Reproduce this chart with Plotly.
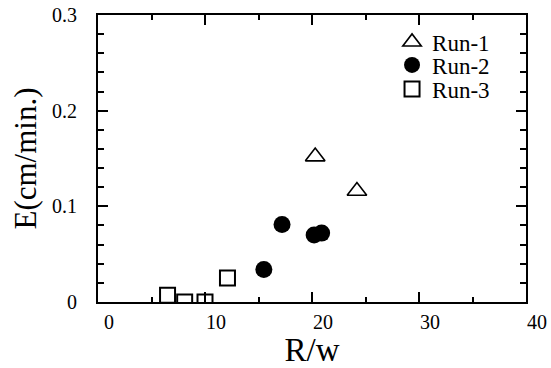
import plotly.graph_objects as go

run1_x = [20.3, 24.2]
run1_y = [0.152, 0.116]
run2_x = [15.5, 17.2, 20.2, 20.9]
run2_y = [0.034, 0.081, 0.070, 0.072]
run3_x = [6.5, 8.1, 10.0, 12.1]
run3_y = [0.007, 0.0, 0.0, 0.025]

FONT = "Liberation Serif, Times New Roman, serif"

fig = go.Figure()
fig.add_trace(go.Scatter(x=run1_x, y=run1_y, mode="markers", name="Run-1", legend="legend",
                         marker=dict(symbol="triangle-up-open", size=17, color="black",
                                     line=dict(width=1.6, color="black"))))
fig.add_trace(go.Scatter(x=run2_x, y=run2_y, mode="markers", name="Run-2", legend="legend2",
                         marker=dict(symbol="circle", size=17, color="black")))
fig.add_trace(go.Scatter(x=run3_x, y=run3_y, mode="markers", name="Run-3", legend="legend3",
                         marker=dict(symbol="square-open", size=15, color="black",
                                     line=dict(width=2, color="black"))))

axis_common = dict(showline=True, linecolor="black", linewidth=2, mirror="ticks",
                   ticks="inside", tickcolor="black", tickwidth=2,
                   showgrid=False, zeroline=False, automargin=False,
                   tickfont=dict(family=FONT, size=20, color="black"))

fig.update_xaxes(range=[0, 40], tickvals=[0, 10, 20, 30, 40], ticklen=10,
                 minor=dict(dtick=5, ticks="inside", ticklen=5, tickcolor="black", tickwidth=2),
                 title=dict(text="R/w", font=dict(family=FONT, size=33, color="black"), standoff=10),
                 ticklabelshift=11, ticklabelstandoff=1, **axis_common)
fig.update_yaxes(range=[0, 0.3], tickvals=[0, 0.1, 0.2, 0.3], ticktext=["0", "0.1", "0.2", "0.3"],
                 ticklen=10,
                 minor=dict(dtick=0.02, ticks="inside", ticklen=6, tickcolor="black", tickwidth=2),
                 title=dict(text="E(cm/min.)", font=dict(family=FONT, size=31, color="black"), standoff=6),
                 ticklabelstandoff=15, **axis_common)

leg_common = dict(x=0.687, xanchor="left", yanchor="middle",
                  font=dict(family=FONT, size=23, color="black"),
                  bgcolor="rgba(0,0,0,0)", borderwidth=0, itemwidth=30)

fig.update_layout(
    width=551, height=368,
    margin=dict(l=98, r=25, t=15, b=66, autoexpand=False),
    plot_bgcolor="white", paper_bgcolor="white",
    legend=dict(y=0.906, **leg_common),
    legend2=dict(y=0.826, **leg_common),
    legend3=dict(y=0.742, **leg_common),
    showlegend=True,
)

fig.write_html("out.html", config={"displayModeBar": False},
               post_script="document.body.style.margin='0';")
